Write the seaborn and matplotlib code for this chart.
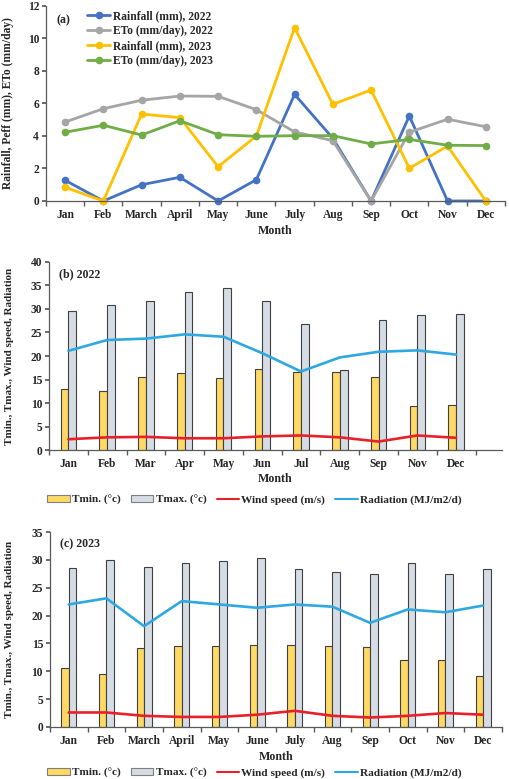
import numpy as np
import pandas as pd
import matplotlib
matplotlib.use("Agg")
import matplotlib.pyplot as plt
import seaborn as sns
from matplotlib.patches import Patch
from matplotlib.lines import Line2D

# ---------------- data ----------------
months_a = ["Jan", "Feb", "March", "April", "May", "June", "July", "Aug", "Sep", "Oct", "Nov", "Dec"]
rain_2022 = [1.27, 0, 1.0, 1.46, 0, 1.31, 6.56, 3.86, 0, 5.23, 0, 0]
eto_2022 = [4.86, 5.68, 6.2, 6.46, 6.44, 5.62, 4.25, 3.71, 0, 4.23, 5.03, 4.57]
rain_2023 = [0.84, 0, 5.35, 5.13, 2.11, 4.0, 10.67, 5.95, 6.83, 2.01, 3.38, 0]
eto_2023 = [4.23, 4.66, 4.06, 4.94, 4.08, 3.98, 4.02, 4.02, 3.51, 3.79, 3.43, 3.41]

months_b = ["Jan", "Feb", "Mar", "Apr", "May", "Jun", "Jul", "Aug", "Sep", "Nov", "Dec"]
tmin_2022 = [12.9, 12.5, 15.5, 16.3, 15.3, 17.2, 16.7, 16.6, 15.6, 9.3, 9.6]
tmax_2022 = [29.6, 30.9, 31.8, 33.6, 34.4, 31.7, 26.9, 17.0, 27.6, 28.7, 28.9]
wind_2022 = [2.3, 2.7, 2.8, 2.5, 2.5, 2.9, 3.1, 2.7, 1.8, 3.1, 2.6]
rad_2022 = [21.1, 23.4, 23.7, 24.6, 24.1, 20.6, 16.7, 19.7, 20.9, 21.2, 20.3]

months_c = ["Jan", "Feb", "March", "April", "May", "June", "July", "Aug", "Sep", "Oct", "Nov", "Dec"]
tmin_2023 = [10.6, 9.5, 14.2, 14.5, 14.6, 14.8, 14.7, 14.6, 14.3, 12.1, 12.0, 9.1]
tmax_2023 = [28.5, 30.0, 28.8, 29.4, 29.8, 30.3, 28.3, 27.9, 27.5, 29.5, 27.4, 28.4]
wind_2023 = [2.6, 2.6, 2.0, 1.8, 1.8, 2.2, 2.9, 2.0, 1.7, 2.0, 2.5, 2.2]
rad_2023 = [22.0, 23.1, 18.1, 22.6, 22.0, 21.4, 22.0, 21.6, 18.7, 21.1, 20.6, 21.8]

# ---------------- style ----------------
sns.set_theme(style="ticks")
plt.rcParams["font.family"] = ["Liberation Serif", "DejaVu Serif"]
plt.rcParams["font.weight"] = "bold"
plt.rcParams["axes.labelweight"] = "bold"
FS = 8.3
SPINE = "#595959"

C_R22, C_E22, C_R23, C_E23 = "#4472C4", "#A5A5A5", "#FFC000", "#70AD47"
C_TMIN, C_TMAX = "#FFD966", "#D6DCE4"
C_WIND, C_RAD = "#E8202A", "#2EA8E0"

fig = plt.figure(figsize=(5.09, 7.79), dpi=100)


def style_axes(ax, n, xmax, ymax, ystep, ylabel, ylfs, ylx, xly):
    for s in ["top", "right"]:
        ax.spines[s].set_visible(False)
    for s in ["left", "bottom"]:
        ax.spines[s].set_color(SPINE)
        ax.spines[s].set_linewidth(0.9)
    ax.set_xlim(-0.5, xmax)
    ax.set_ylim(0, ymax)
    ax.set_yticks(np.arange(0, ymax + 0.01, ystep))
    ax.set_xticks(np.arange(n))
    ax.set_xticks(np.arange(-0.5, xmax + 0.01, 1.0), minor=True)
    ax.tick_params(axis="x", which="major", length=0, pad=6, labelsize=FS)
    ax.tick_params(axis="x", which="minor", length=3.5, color=SPINE, direction="out")
    ax.tick_params(axis="y", length=3, color=SPINE, labelsize=FS, pad=2)
    ax.set_ylabel(ylabel, fontsize=ylfs, fontweight="bold")
    ax.yaxis.set_label_coords(ylx, 0.5)
    ax.set_xlabel("Month", fontsize=FS + 0.3, fontweight="bold")
    ax.xaxis.set_label_coords(0.5, xly)


# ---------------- panel (a) ----------------
axa = fig.add_axes([0.0904, 0.742, 0.9016, 0.2503])
idx_a = np.arange(len(months_a))
for vals, col, lab in [(rain_2022, C_R22, "Rainfall (mm), 2022"),
                       (eto_2022, C_E22, "ETo (mm/day), 2022"),
                       (rain_2023, C_R23, "Rainfall (mm), 2023"),
                       (eto_2023, C_E23, "ETo (mm/day), 2023")]:
    sns.lineplot(x=idx_a, y=vals, ax=axa, color=col, linewidth=2.0, marker="o",
                 markersize=5.5, markeredgewidth=0, label=lab, sort=False, clip_on=False)
style_axes(axa, len(months_a), 11.5, 12, 2, "Rainfall, Peff (mm), ETo (mm/day)",
           FS, -0.07, -0.125)
axa.set_xticklabels(months_a)
axa.legend(loc="upper left", bbox_to_anchor=(0.085, 0.99), frameon=False,
           handlelength=2.0, handletextpad=0.25, labelspacing=0.25, borderaxespad=0.0,
           borderpad=0.2, prop={"weight": "bold", "size": FS})
axa.text(0.022, 0.91, "(a)", transform=axa.transAxes, fontsize=FS + 0.3, fontweight="bold")


def bar_panel(rect, months, tmin, tmax, wind, rad, xmax, ymax, title, ylx, xly):
    ax = fig.add_axes(rect)
    df = pd.DataFrame({"Month": months * 2,
                       "Value": tmin + tmax,
                       "Var": ["Tmin"] * len(months) + ["Tmax"] * len(months)})
    sns.barplot(data=df, x="Month", y="Value", hue="Var", order=months,
                hue_order=["Tmin", "Tmax"], palette=[C_TMIN, C_TMAX], width=0.4,
                saturation=1, edgecolor="#404040", linewidth=0.8, ax=ax,
                legend=False, gap=0)
    idx = np.arange(len(months))
    sns.lineplot(x=idx, y=wind, ax=ax, color=C_WIND, linewidth=1.9, sort=False)
    sns.lineplot(x=idx, y=rad, ax=ax, color=C_RAD, linewidth=1.9, sort=False)
    style_axes(ax, len(months), xmax, ymax, 5, "Tmin., Tmax., Wind speed, Radiation",
               FS - 0.3, ylx, xly)
    ax.set_xticklabels(months)
    ax.text(0.022, 0.92, title, transform=ax.transAxes, fontsize=FS + 0.3, fontweight="bold")
    return ax


axb = bar_panel([0.0963, 0.4223, 0.8897, 0.2414], months_b, tmin_2022, tmax_2022,
                wind_2022, rad_2022, 11.18, 40, "(b) 2022", -0.077, -0.12)
axc = bar_panel([0.098, 0.0668, 0.888, 0.2502], months_c, tmin_2023, tmax_2023,
                wind_2023, rad_2023, 11.5, 35, "(c) 2023", -0.08, -0.125)

handles = [Patch(facecolor=C_TMIN, edgecolor="#7f7f7f", linewidth=0.8, label="Tmin. (°c)"),
           Patch(facecolor=C_TMAX, edgecolor="#7f7f7f", linewidth=0.8, label="Tmax. (°c)"),
           Line2D([], [], color=C_WIND, linewidth=1.5, label="Wind speed (m/s)"),
           Line2D([], [], color=C_RAD, linewidth=1.5, label="Radiation (MJ/m2/d)")]
for y in [0.358, 0.0077]:
    fig.legend(handles=handles, loc="center", bbox_to_anchor=(0.5, y), ncol=4, frameon=False,
               prop={"weight": "bold", "size": FS - 0.2}, handlelength=2.0, handleheight=0.6,
               handletextpad=0.2, columnspacing=0.9)

fig.savefig("out.png", dpi=100)
